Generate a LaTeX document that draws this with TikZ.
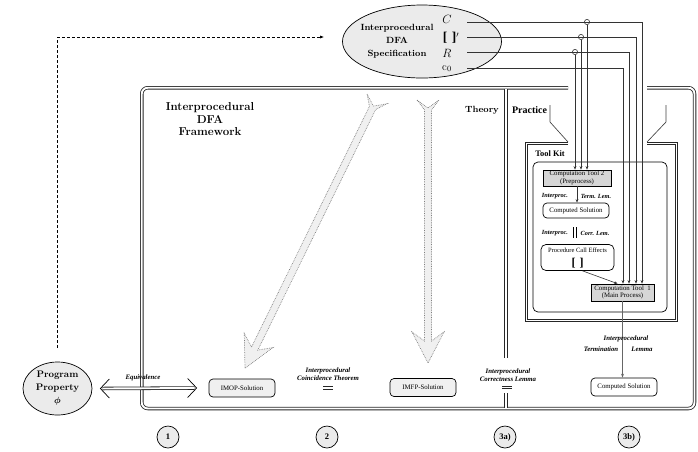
\documentclass[tikz,border=0pt]{standalone}
\usepackage{fontspec}
\newfontfamily\tms{Liberation Serif}
\usetikzlibrary{arrows.meta,shapes.geometric}
\newcommand\hollowarrow[1]{%
  \filldraw[bigarr] (-11,-9) -- (-3.5,1) -- (-3.5,{#1-22}) -- (-16,{#1-31}) -- (0,#1) -- (16,{#1-31}) -- (3.5,{#1-22}) -- (3.5,1) -- (11,-9) -- (0,-1) -- cycle;}
\begin{document}
\begin{tikzpicture}[x=1pt,y=-1pt,
  wire/.style={line width=0.6pt, draw=black!80},
  warr/.style={wire, -{Stealth[length=3.6pt,width=2.8pt]}},
  dbl/.style={double=white, double distance=1.9pt, line width=0.8pt, draw=black!85},
  bi/.style={font=\tms\bfseries\itshape\fontsize{6.8}{8.5}\selectfont, inner sep=0pt, align=center},
  bis/.style={font=\tms\bfseries\itshape\fontsize{6.3}{7}\selectfont, inner sep=0pt},
  tb/.style={font=\tms\fontsize{6.8}{7.4}\selectfont, align=center, inner sep=0.5pt},
  gbox/.style={tb, draw, line width=0.6pt, fill=black!16},
  rbox/.style={tb, draw, line width=0.7pt, rounded corners=4pt},
  num/.style={circle, draw, line width=0.7pt, fill=black!8, minimum size=22pt, inner sep=0pt, font=\tms\bfseries\fontsize{8.5}{9}\selectfont},
  bigarr/.style={draw=black!50, densely dotted, fill=black!6, line width=0.7pt},
  eqsign/.style={double=white, double distance=1.8pt, line width=0.9pt, draw=black!85}
]
\useasboundingbox (0,0) rectangle (698,451);

% main framework frame (double, gap at top)
\draw[dbl, rounded corners=6pt] (568,87.75) -- (141.75,87.75) -- (141.75,408.5) -- (694.5,408.5) -- (694.5,87.75) -- (647,87.75);
% theory / practice divider
\draw[dbl] (506,89) -- (506,358);
\draw[dbl] (506,393) -- (506,407.5);
% tool kit frame and funnel
\draw[dbl] (568,143.5) -- (526.5,143.5) -- (526.5,320.5) -- (676.5,320.5) -- (676.5,143.5) -- (647,143.5);
\draw[line width=0.65pt, draw=black!75] (550,105) -- (550,122) -- (568,142);
\draw[line width=0.65pt, draw=black!75] (666,105) -- (666,122) -- (647,142);
\node[draw, line width=0.7pt, rounded corners=5pt, minimum width=134pt, minimum height=150pt, inner sep=0pt] (toolkit) at (600,237) {};

% big hollow dotted arrows
\begin{scope}[shift={(373,107)}, rotate=-26.1]
  \hollowarrow{291}
\end{scope}
\begin{scope}[shift={(428,109)}]
  \hollowarrow{254}
\end{scope}

% specification ellipse
\node[ellipse, draw, line width=0.7pt, fill=black!8, minimum width=159pt, minimum height=73pt, inner sep=0pt] (spec) at (422,41.5) {};
\node[font=\bfseries\fontsize{9}{13}\selectfont, align=center] (spectext) at (397,41) {Interprocedural\\DFA\\Specification};
\node[font=\fontsize{11.5}{11.5}\selectfont, inner sep=0pt] (symC) at (447,19) {$C$};
\node[font=\fontsize{11}{11}\selectfont, inner sep=0pt] (symB) at (451,37.5) {{\tms\bfseries\fontsize{13.5}{13.5}\selectfont[\hspace{4.5pt}]}$'$};
\node[font=\fontsize{11.5}{11.5}\selectfont, inner sep=0pt] (symR) at (447,53) {$R$};
\node[font=\fontsize{11}{11}\selectfont, inner sep=0pt] (symc) at (447,68.5) {c$_0$};

% program property
\node[ellipse, draw, line width=0.7pt, fill=black!8, minimum width=69pt, minimum height=53pt, inner sep=0pt, font=\bfseries\fontsize{9.5}{13}\selectfont, align=center] (pp) at (57.5,388.5) {Program\\Property\\{\boldmath$\phi$}};

% headings
\node[font=\bfseries\fontsize{11.5}{12.5}\selectfont, align=center] (fwtitle) at (210,119.5) {Interprocedural\\DFA\\Framework};
\node[font=\bfseries\fontsize{9}{10}\selectfont] (theory) at (482,110) {Theory};
\node[font=\tms\bfseries\fontsize{10}{11}\selectfont] (practice) at (529.5,110) {Practice};
\node[font=\tms\bfseries\fontsize{8.4}{9}\selectfont] (toolkitlbl) at (550,154) {Tool Kit};

% tool kit contents
\node[gbox, minimum width=68pt, minimum height=16pt] (ct2) at (577,178) {Computation Tool 2\\(Preprocess)};
\node[rbox, minimum width=66pt, minimum height=15pt] (cs2) at (576,210.5) {Computed Solution};
\node[rbox, rounded corners=5pt, minimum width=73pt, minimum height=26pt] (pce) at (577.5,257.5) {};
\node[tb, font=\tms\fontsize{6.5}{7}\selectfont] (pcetext) at (577.5,250.5) {Procedure Call Effects};
\node[inner sep=0pt, font=\tms\bfseries\fontsize{12}{12}\selectfont] (pcebr) at (577.5,263) {[\hspace{4pt}]};
\node[gbox, minimum width=63pt, minimum height=17pt] (ct1) at (622.5,292.5) {Computation Tool\ \ 1\\(Main Process)};
\node[bis] (ip1) at (555,196) {Interproc.};
\node[bis] (tl) at (596,196) {Term. Lem.};
\node[bis] (ip2) at (555,233) {Interproc.};
\node[bis] (cl) at (595,233) {Corr. Lem.};
\draw[line width=0.8pt, double=white, double distance=2pt] (575,227) -- (575,238);

\draw[warr] (ct2.south) -- (ct2.south |- cs2.north);
\draw[warr] ([xshift=5pt]pce.south) -- ([xshift=27pt]ct1.north west);

% wires from the specification
\coordinate (wC) at (467,22);
\coordinate (wB) at (467,37);
\coordinate (wR) at (467,52);
\coordinate (wc) at (467,68);
\coordinate (xC) at (642,0);
\coordinate (xB) at (636,0);
\coordinate (xR) at (629,0);
\coordinate (xc) at (623,0);
\draw[warr] (wC) -| (xC |- ct1.north);
\draw[warr] (wB) -| (xB |- ct1.north);
\draw[warr] (wR) -| (xR |- ct1.north);
\draw[warr] (wc) -| (xc |- ct1.north);
\coordinate (jC) at (587,22);
\coordinate (jB) at (581,37);
\coordinate (jR) at (575,52);
\foreach \j in {jC,jB,jR}{
  \draw[wire] (\j) circle (2.6pt);
  \draw[warr] ([yshift=-2.6pt]\j) -- (\j |- ct2.north);
}

% bottom row
\node[rbox, fill=black!6, minimum width=66pt, minimum height=18pt] (imop) at (242,388) {IMOP-Solution};
\node[rbox, fill=black!6, minimum width=66pt, minimum height=18pt] (imfp) at (423,387.5) {IMFP-Solution};
\node[rbox, minimum width=66pt, minimum height=18pt] (cs) at (624,387) {Computed Solution};
\draw[line width=1pt, draw=black!60, -{Stealth[length=4pt,width=3pt]}] (ct1.south) -- (ct1.south |- cs.north);
\node[bi] (itl1) at (626,339) {Interprocedural};
\node[bi] (itl2) at (601,349) {Termination};
\node[bi] (itl3) at (642,349) {Lemma};

\node[bi] (eqlbl) at (143,378) {Equivalence};
\draw[dbl] ([xshift=10pt]pp.east) -- ([xshift=-14pt]imop.west);
\draw[line width=0.7pt] ([xshift=17pt,yshift=9.5pt]pp.east) -- ([xshift=8pt]pp.east) -- ([xshift=17pt,yshift=-9.5pt]pp.east);
\draw[line width=0.7pt] ([xshift=-21pt,yshift=9.5pt]imop.west) -- ([xshift=-12pt]imop.west) -- ([xshift=-21pt,yshift=-9.5pt]imop.west);

\node[bi] (ict) at (328,374) {Interprocedural\\Coincidence Theorem};
\draw[eqsign] ([xshift=-5pt,yshift=-14pt]ict.center) -- ([xshift=5pt,yshift=-14pt]ict.center);
\node[bi] (icl) at (508,375) {Interprocedural\\Correctness Lemma};
\draw[eqsign] ([xshift=-6pt,yshift=-12.5pt]icl.center) -- ([xshift=4pt,yshift=-12.5pt]icl.center);

% dashed connector
\draw[densely dashed, line width=0.7pt, -{Latex[length=4pt,width=3pt]}] ([yshift=14pt]pp.north) |- ([xshift=-18pt,yshift=4.5pt]spec.west);

% numbers
\node[num] (n1) at (168,437) {1};
\node[num] (n2) at (327,437) {2};
\node[num] (n3a) at (505,437) {3a)};
\node[num] (n3b) at (629,437) {3b)};
\end{tikzpicture}
\end{document}
